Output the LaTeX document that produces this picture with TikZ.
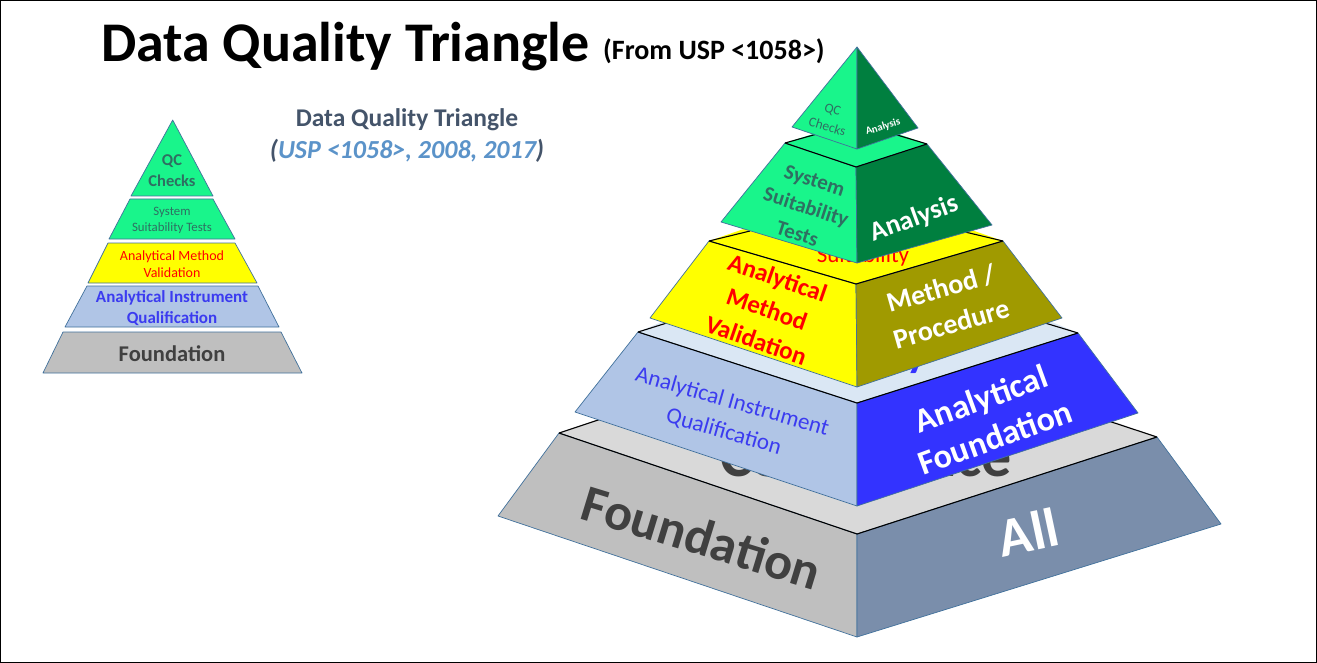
\documentclass[tikz,border=0pt]{standalone}
\usepackage{fontspec}
\setmainfont{Carlito}
\definecolor{edgeC}{HTML}{41719C}
\definecolor{fGrey}{HTML}{BFBFBF}
\definecolor{fSlate}{HTML}{7A8EAB}
\definecolor{fTop}{HTML}{D9D9D9}
\definecolor{aLight}{HTML}{B0C5E6}
\definecolor{aBlue}{HTML}{3333FF}
\definecolor{aTop}{HTML}{DAE7F4}
\definecolor{yel}{HTML}{FFFF00}
\definecolor{mOlive}{HTML}{A09A00}
\definecolor{sGreen}{HTML}{19F58B}
\definecolor{sDark}{HTML}{007F3F}
\definecolor{txtDark}{HTML}{404040}
\definecolor{txtTeal}{HTML}{2F6F62}
\definecolor{subDark}{HTML}{44546A}
\definecolor{subBlue}{HTML}{5B93C9}
\definecolor{instBlue}{HTML}{3B3BF0}
\definecolor{pureRed}{HTML}{FF0000}
\newcommand{\fl}[2]{\fontsize{#1}{#2}\selectfont}
\tikzset{
  face/.style={draw=edgeC,line width=0.7pt,line join=round},
  topedge/.style={draw=black,line width=1.1pt,line join=round},
  lbl/.style={align=center,inner sep=0pt},
}
\begin{document}
\begin{tikzpicture}[x=1pt,y=-1pt]
\useasboundingbox (0,0) rectangle (1317,663);
\fill[white] (0,0) rectangle (1317,663);
\draw[black,line width=0.8pt] (0.5,0.5) rectangle (1316.5,662.5);
% title
\node[lbl,anchor=base west,font=\bfseries\fl{56}{60}] (title) at (101,62) {Data Quality Triangle};
\node[lbl,anchor=base west,font=\bfseries\fl{28}{30}] (titlesub) at (603,60) {(From USP <1058>)};
\node[lbl,text=subDark,font=\bfseries\fl{25.5}{28}] (subA) at (407,120) {Data Quality Triangle};
\node[lbl,text=subDark,font=\bfseries\itshape\fl{26}{28}] (subB) at (407,151) {(\textcolor{subBlue}{USP <1058>, 2008, 2017})};
% small pyramid
\draw[face,fill=sGreen] (172.7,120) -- (213,196) -- (131,196) -- cycle;
\draw[face,fill=sGreen] (130,199) -- (213,199) -- (235,239) -- (109,239) -- cycle;
\draw[face,fill=yel] (108,243) -- (235,243) -- (257,283) -- (88,283) -- cycle;
\draw[face,fill=aLight] (87,286) -- (258,286) -- (279,327) -- (65,327) -- cycle;
\draw[face,fill=fGrey] (63,332) -- (281,332) -- (302,373) -- (43,373) -- cycle;
\node[lbl,text=txtTeal,font=\bfseries\fl{16.5}{21}] (sQC) at (172,171) {QC\\Checks};
\node[lbl,text=txtTeal,font=\fl{12.8}{16}] (sSys) at (172,220) {System\\Suitability Tests};
\node[lbl,text=pureRed,font=\fl{14}{17}] (sAmv) at (172,264) {Analytical Method\\Validation};
\node[lbl,text=instBlue,font=\bfseries\fl{17}{21}] (sAiq) at (172,308) {Analytical Instrument\\Qualification};
\node[lbl,text=txtDark,font=\bfseries\fl{22.5}{24}] (sFnd) at (172,354) {Foundation};
% big pyramid: foundation tier
\path[fill=fTop] (559,433) -- (857,330) -- (1157,437) -- (857,534) -- cycle;
\node[lbl,text=txtDark,anchor=base,font=\bfseries\fl{60}{64}] (hidF) at (866,476) {Compliance};
\draw[topedge] (559,433) -- (640,406);
\draw[topedge] (1157,437) -- (1075,410);
\draw[face,fill=fGrey] (559,433) -- (857,534) -- (857,637) -- (498,516) -- cycle;
\draw[face,fill=fSlate] (857,534) -- (1157,437) -- (1221,524) -- (857,637) -- cycle;
\draw[topedge] (559,433) -- (857,534) -- (1157,437);
\node[lbl,text=txtDark,rotate=-17,font=\bfseries\fl{52}{56}] (fndL) at (702,537) {Foundation};
\node[lbl,text=white,rotate=12,font=\bfseries\fl{55}{60}] (fndR) at (1028,532) {All};
% analytical tier
\path[fill=aTop] (638,332) -- (857,240) -- (1078,333) -- (857,403) -- cycle;
\node[lbl,text=aBlue,anchor=base,font=\bfseries\fl{45}{48}] (hidA) at (860,366) {Quality};
\draw[topedge] (638,332) -- (670,322);
\draw[topedge] (1078,333) -- (1045,323);
\draw[face,fill=aLight] (638,332) -- (857,403) -- (857,506) -- (575,412) -- cycle;
\draw[face,fill=aBlue] (857,403) -- (1078,333) -- (1138,413) -- (857,506) -- cycle;
\draw[topedge] (638,332) -- (857,403) -- (1078,333);
\node[lbl,text=instBlue,rotate=-16,font=\fl{23}{31}] (aiq) at (728,417) {Analytical Instrument\\Qualification};
\node[lbl,text=white,rotate=20,font=\bfseries\fl{34}{41}] (afnd) at (988,418) {Analytical\\Foundation};
% method tier
\path[fill=yel] (709,241) -- (857,190) -- (1003,241) -- (855,284) -- cycle;
\node[lbl,text=pureRed,anchor=base,font=\fl{23}{26}] (hidM) at (863,262) {Suitability};
\draw[topedge] (709,241) -- (750,231);
\draw[topedge] (1003,241) -- (965,232);
\draw[face,fill=yel] (709,241) -- (856,284) -- (857,387) -- (650,318) -- cycle;
\draw[face,fill=mOlive] (856,284) -- (1003,241) -- (1062,318) -- (857,387) -- cycle;
\draw[topedge] (709,241) -- (856,284) -- (1003,241);
\node[lbl,text=pureRed,rotate=-19,font=\bfseries\fl{25}{33}] (amv) at (767,309) {Analytical\\Method\\Validation};
\node[lbl,text=white,rotate=16,font=\bfseries\fl{28}{37}] (mp) at (946,306) {Method /\\Procedure};
% suitability tier
\path[fill=sGreen] (785,143) -- (857,120) -- (927,144) -- (856,167) -- cycle;
\draw[topedge] (785,143) -- (817,134);
\draw[topedge] (927,144) -- (897,135);
\draw[face,fill=sGreen] (785,143) -- (856,167) -- (857,263) -- (721,222) -- cycle;
\draw[face,fill=sDark] (856,167) -- (927,144) -- (992,225) -- (857,263) -- cycle;
\draw[topedge] (785,143) -- (856,167) -- (927,144);
\node[lbl,text=txtTeal,rotate=-18,font=\bfseries\fl{21}{28}] (sst) at (806,207) {System\\Suitability\\Tests};
\node[lbl,text=white,rotate=20,font=\bfseries\fl{27}{30}] (ana) at (914,219) {Analysis};
% QC tier
\draw[face,fill=sGreen] (857,47) -- (857,149) -- (792,127) -- cycle;
\draw[face,fill=sDark] (857,47) -- (918,128) -- (857,149) -- cycle;
\node[lbl,text=txtTeal,rotate=-17,font=\fl{13.5}{18}] (qc) at (830,118) {QC\\Checks};
\node[lbl,text=white,rotate=17,font=\bfseries\fl{10.5}{12}] (ana2) at (883,127) {Analysis};
\end{tikzpicture}
\end{document}
